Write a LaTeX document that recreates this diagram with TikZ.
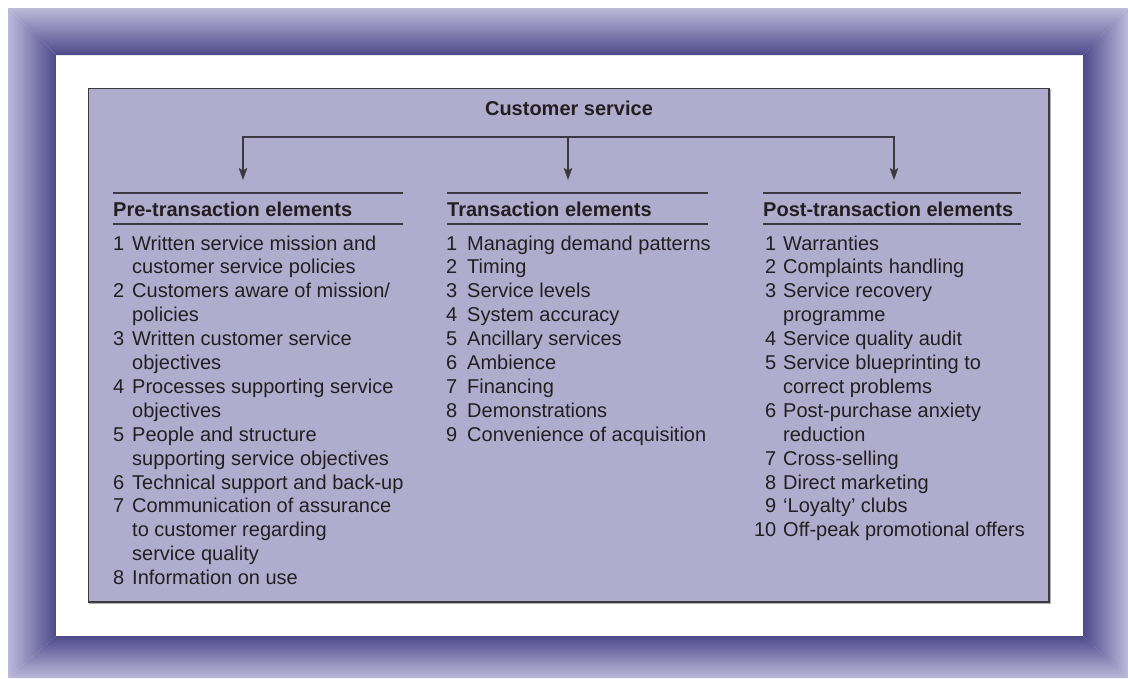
\documentclass[tikz,border=0pt]{standalone}
\usepackage{fontspec}
\setmainfont{Liberation Sans}
\usetikzlibrary{arrows.meta}
\definecolor{framedark}{HTML}{4E4A8A}
\definecolor{framelight}{HTML}{BDB9DA}
\definecolor{boxfill}{HTML}{B0ACCE}
\definecolor{ink}{HTML}{231F20}
\definecolor{rulegray}{HTML}{3C3A40}
\tikzset{
  item/.style={inner sep=0pt, text=ink, font=\fontsize{20}{24}\selectfont},
  headtext/.style={inner sep=0pt, text=ink, font=\fontsize{20}{24}\selectfont\bfseries},
  sepline/.style={draw=rulegray, line width=1.5pt},
  bracket/.style={draw=rulegray, line width=1.5pt, -{Stealth[length=12pt,width=8.5pt,inset=2.5pt]}},
}
\begin{document}
\begin{tikzpicture}[x=1pt,y=-1pt]
\useasboundingbox (0,0) rectangle (1128,678);
\fill[white] (0,0) rectangle (1128,678);
% gradient frame
\shade[top color=framelight, bottom color=framedark] (8,8) -- (1128,8) -- (1083,55) -- (56,55) -- cycle;
\shade[top color=framedark, bottom color=framelight] (56,636) -- (1083,636) -- (1128,678) -- (8,678) -- cycle;
\shade[left color=framelight, right color=framedark] (8,8) -- (56,55) -- (56,636) -- (8,678) -- cycle;
\shade[left color=framedark, right color=framelight] (1083,55) -- (1128,8) -- (1128,678) -- (1083,636) -- cycle;
% main panel
\draw[draw=gray!60, line width=1.5pt] (90,90) rectangle (1050.5,603.5);
\draw[fill=boxfill, draw=rulegray, line width=1.6pt] (88.5,88.5) rectangle (1049,602);
% title and bracket
\node[headtext, anchor=base] (cs) at (569,115) {Customer service};
\coordinate (hub) at (568,137);
\coordinate (preTip) at (243,180);
\coordinate (txTip) at (568,180);
\coordinate (postTip) at (894,180);
\draw[bracket] (hub) -| (preTip);
\draw[bracket] (hub) -| (postTip);
\draw[bracket] (hub) -- (txTip);
% header rules
\draw[sepline] (113,193) -- (403,193);
\draw[sepline] (113,224) -- (403,224);
\draw[sepline] (447,193) -- (708,193);
\draw[sepline] (447,224) -- (708,224);
\draw[sepline] (763,193) -- (1021,193);
\draw[sepline] (763,224) -- (1021,224);
% headers
\node[headtext, anchor=base west] (preH) at (113,216) {Pre-transaction elements};
\node[headtext, anchor=base west] (txH) at (447,216) {Transaction elements};
\node[headtext, anchor=base west] (postH) at (763,216) {Post-transaction elements};
% left column
\foreach \r/\n in {0/1, 2/2, 4/3, 6/4, 8/5, 10/6, 11/7, 14/8}
  \node[item, anchor=base east] (Ln\n) at (124.5,{250+\r*23.9}) {\n};
\foreach \r/\t [count=\k] in {
  0/{Written service mission and},
  1/{customer service policies},
  2/{Customers aware of mission/},
  3/{policies},
  4/{Written customer service},
  5/{objectives},
  6/{Processes supporting service},
  7/{objectives},
  8/{People and structure},
  9/{supporting service objectives},
  10/{Technical support and back-up},
  11/{Communication of assurance},
  12/{to customer regarding},
  13/{service quality},
  14/{Information on use}}
  \node[item, anchor=base west] (Lt\k) at (132,{250+\r*23.9}) {\t};
% middle column
\foreach \r/\t [count=\k] in {
  0/{Managing demand patterns},
  1/{Timing},
  2/{Service levels},
  3/{System accuracy},
  4/{Ancillary services},
  5/{Ambience},
  6/{Financing},
  7/{Demonstrations},
  8/{Convenience of acquisition}} {
  \node[item, anchor=base east] (Mn\k) at (457.5,{250+\r*23.9}) {\k};
  \node[item, anchor=base west] (Mt\k) at (467,{250+\r*23.9}) {\t};
}
% right column
\foreach \r/\n in {0/1, 1/2, 2/3, 4/4, 5/5, 7/6, 9/7, 10/8, 11/9, 12/10}
  \node[item, anchor=base east] (Rn\n) at (776.5,{250+\r*23.9}) {\n};
\foreach \r/\t [count=\k] in {
  0/{Warranties},
  1/{Complaints handling},
  2/{Service recovery},
  3/{programme},
  4/{Service quality audit},
  5/{Service blueprinting to},
  6/{correct problems},
  7/{Post-purchase anxiety},
  8/{reduction},
  9/{Cross-selling},
  10/{Direct marketing},
  11/{‘Loyalty’ clubs},
  12/{Off-peak promotional offers}}
  \node[item, anchor=base west] (Rt\k) at (783,{250+\r*23.9}) {\t};
\end{tikzpicture}
\end{document}
